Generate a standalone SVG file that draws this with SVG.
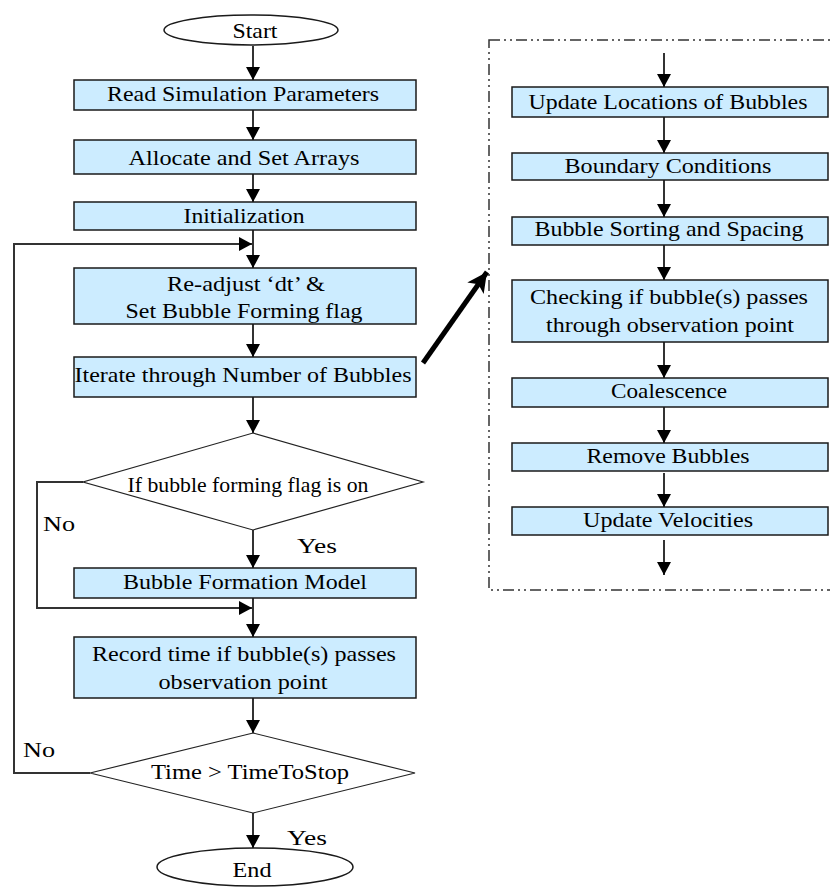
<svg xmlns="http://www.w3.org/2000/svg" width="830" height="888" viewBox="0 0 830 888">
<defs>
<style>
.box{fill:#CCECFF;stroke:#1a1a1a;stroke-width:1.5}
.term{fill:#fff;stroke:#1a1a1a;stroke-width:1.5}
.dia{fill:#fff;stroke:#222;stroke-width:1.2}
.t{font-family:'Liberation Serif','DejaVu Serif',serif;font-size:22px;fill:#000;text-anchor:middle}
.lbl{font-family:'Liberation Serif','DejaVu Serif',serif;font-size:22px;fill:#000}
.c{fill:none;stroke:#333;stroke-width:2}
</style>
<marker id="ah" markerUnits="userSpaceOnUse" markerWidth="14" markerHeight="14" refX="13" refY="7" orient="auto">
<path d="M0,0 L13,7 L0,14 z" fill="#000"/>
</marker>
<marker id="big" markerUnits="userSpaceOnUse" markerWidth="22" markerHeight="22" refX="20" refY="10" orient="auto">
<path d="M0,0 L20,10 L0,20 L5,10 z" fill="#000"/>
</marker>
</defs>

<rect x="489" y="40" width="345" height="550" fill="none" stroke="#333" stroke-width="1.5" stroke-dasharray="11 4 2 4 2 4"/>

<g id="connectors">
<line class="c" x1="253" y1="46" x2="253" y2="80" marker-end="url(#ah)"/>
<line class="c" x1="253" y1="110" x2="253" y2="140" marker-end="url(#ah)"/>
<line class="c" x1="253" y1="174" x2="253" y2="202" marker-end="url(#ah)"/>
<line class="c" x1="253" y1="230" x2="253" y2="268" marker-end="url(#ah)"/>
<line class="c" x1="253" y1="324" x2="253" y2="357" marker-end="url(#ah)"/>
<line class="c" x1="253" y1="397" x2="253" y2="433" marker-end="url(#ah)"/>
<line class="c" x1="253" y1="530" x2="253" y2="568" marker-end="url(#ah)"/>
<line class="c" x1="253" y1="598" x2="253" y2="637" marker-end="url(#ah)"/>
<line class="c" x1="253" y1="698" x2="253" y2="733" marker-end="url(#ah)"/>
<line class="c" x1="253" y1="813" x2="253" y2="848" marker-end="url(#ah)"/>
<polyline class="c" points="83,482 37,482 37,608 252,608" marker-end="url(#ah)"/>
<polyline class="c" points="90,773 14,773 14,244 252,244" marker-end="url(#ah)"/>
<line x1="423" y1="363" x2="487" y2="272" stroke="#000" stroke-width="5" marker-end="url(#big)"/>
<line class="c" x1="664" y1="53" x2="664" y2="87" marker-end="url(#ah)"/>
<line class="c" x1="664" y1="117" x2="664" y2="153" marker-end="url(#ah)"/>
<line class="c" x1="664" y1="180" x2="664" y2="217" marker-end="url(#ah)"/>
<line class="c" x1="664" y1="245" x2="664" y2="280" marker-end="url(#ah)"/>
<line class="c" x1="664" y1="342" x2="664" y2="378" marker-end="url(#ah)"/>
<line class="c" x1="664" y1="407" x2="664" y2="443" marker-end="url(#ah)"/>
<line class="c" x1="664" y1="473" x2="664" y2="507" marker-end="url(#ah)"/>
<line class="c" x1="664" y1="540" x2="664" y2="575" marker-end="url(#ah)"/>
</g>

<g id="start"><ellipse class="term" cx="251" cy="30" rx="87" ry="15"/><text class="t" x="255" y="38" textLength="45" lengthAdjust="spacingAndGlyphs">Start</text></g>
<g id="read"><rect class="box" x="74" y="80" width="342" height="30"/><text class="t" x="243" y="101" textLength="272" lengthAdjust="spacingAndGlyphs">Read Simulation Parameters</text></g>
<g id="alloc"><rect class="box" x="74" y="140" width="342" height="34"/><text class="t" x="244" y="165" textLength="231" lengthAdjust="spacingAndGlyphs">Allocate and Set Arrays</text></g>
<g id="init"><rect class="box" x="74" y="202" width="342" height="28"/><text class="t" x="244" y="223" textLength="121" lengthAdjust="spacingAndGlyphs">Initialization</text></g>
<g id="readjust"><rect class="box" x="74" y="268" width="342" height="56"/><text class="t" x="246" y="291" textLength="158" lengthAdjust="spacingAndGlyphs">Re-adjust ‘dt’ &amp;</text><text class="t" x="244" y="318" textLength="237" lengthAdjust="spacingAndGlyphs">Set Bubble Forming flag</text></g>
<g id="iterate"><rect class="box" x="74" y="357" width="342" height="40"/><text class="t" x="243" y="382" textLength="337" lengthAdjust="spacingAndGlyphs">Iterate through Number of Bubbles</text></g>
<g id="dec1"><polygon class="dia" points="253,433 423,482 253,530 83,482"/><text class="t" x="248" y="492" font-size="20" textLength="241" lengthAdjust="spacingAndGlyphs">If bubble forming flag is on</text></g>
<g id="formation"><rect class="box" x="74" y="568" width="342" height="30"/><text class="t" x="245" y="589" textLength="244" lengthAdjust="spacingAndGlyphs">Bubble Formation Model</text></g>
<g id="record"><rect class="box" x="74" y="637" width="342" height="61"/><text class="t" x="244" y="661" textLength="304" lengthAdjust="spacingAndGlyphs">Record time if bubble(s) passes</text><text class="t" x="243" y="689" textLength="169" lengthAdjust="spacingAndGlyphs">observation point</text></g>
<g id="dec2"><polygon class="dia" points="253,733 415,773 253,813 90,773"/><text class="t" x="250" y="779" textLength="198" lengthAdjust="spacingAndGlyphs">Time &gt; TimeToStop</text></g>
<g id="end"><ellipse class="term" cx="255" cy="867" rx="98" ry="19"/><text class="t" x="252" y="877" textLength="39" lengthAdjust="spacingAndGlyphs">End</text></g>

<g id="labels">
<text class="lbl" x="43" y="531" textLength="32" lengthAdjust="spacingAndGlyphs">No</text>
<text class="lbl" x="297" y="553" textLength="40" lengthAdjust="spacingAndGlyphs">Yes</text>
<text class="lbl" x="23" y="757" textLength="32" lengthAdjust="spacingAndGlyphs">No</text>
<text class="lbl" x="287" y="845" textLength="40" lengthAdjust="spacingAndGlyphs">Yes</text>
</g>

<g id="update-loc"><rect class="box" x="512" y="87" width="316" height="30"/><text class="t" x="668" y="109" textLength="279" lengthAdjust="spacingAndGlyphs">Update Locations of Bubbles</text></g>
<g id="boundary"><rect class="box" x="512" y="153" width="316" height="27"/><text class="t" x="668" y="173" textLength="207" lengthAdjust="spacingAndGlyphs">Boundary Conditions</text></g>
<g id="sorting"><rect class="box" x="512" y="217" width="316" height="28"/><text class="t" x="669" y="236" textLength="269" lengthAdjust="spacingAndGlyphs">Bubble Sorting and Spacing</text></g>
<g id="checking"><rect class="box" x="512" y="280" width="316" height="62"/><text class="t" x="669" y="304" textLength="278" lengthAdjust="spacingAndGlyphs">Checking if bubble(s) passes</text><text class="t" x="670" y="332" textLength="248" lengthAdjust="spacingAndGlyphs">through observation point</text></g>
<g id="coalescence"><rect class="box" x="512" y="378" width="316" height="29"/><text class="t" x="669" y="398" textLength="116" lengthAdjust="spacingAndGlyphs">Coalescence</text></g>
<g id="remove"><rect class="box" x="512" y="443" width="316" height="28"/><text class="t" x="668" y="463" textLength="163" lengthAdjust="spacingAndGlyphs">Remove Bubbles</text></g>
<g id="velocities"><rect class="box" x="512" y="507" width="316" height="28"/><text class="t" x="668" y="527" textLength="170" lengthAdjust="spacingAndGlyphs">Update Velocities</text></g>
</svg>
